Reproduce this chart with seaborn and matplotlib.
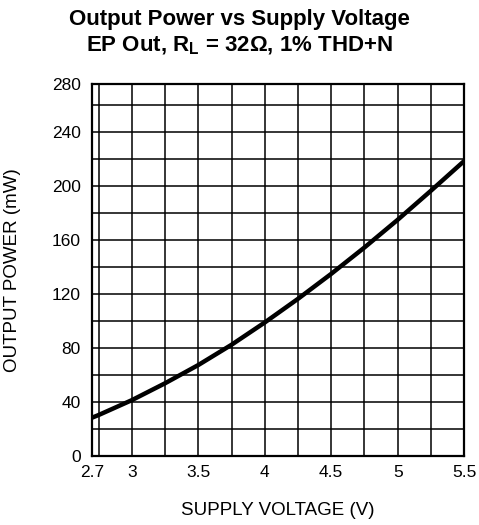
import numpy as np
import pandas as pd
import matplotlib
matplotlib.use("Agg")
import matplotlib.pyplot as plt
import seaborn as sns

# === Data ===
supply_voltage = [2.7, 2.75, 3.0, 3.25, 3.5, 3.75, 4.0, 4.25, 4.5, 4.75, 5.0, 5.25, 5.5]
output_power = [28.5, 30.5, 41.5, 54.0, 67.5, 82.5, 99.0, 116.5, 135.0, 154.5, 175.0, 196.5, 218.5]

x_ticks = [2.7, 3.0, 3.5, 4.0, 4.5, 5.0, 5.5]
x_tick_labels = ["2.7", "3", "3.5", "4", "4.5", "5", "5.5"]
y_ticks = [0, 40, 80, 120, 160, 200, 240, 275.5]
y_tick_labels = ["0", "40", "80", "120", "160", "200", "240", "280"]
x_grid = [2.75, 3.0, 3.25, 3.5, 3.75, 4.0, 4.25, 4.5, 4.75, 5.0, 5.25]
y_grid = [20, 40, 60, 80, 100, 120, 140, 160, 180, 200, 220, 240, 260]

df = pd.DataFrame({"voltage": supply_voltage, "power": output_power})

# === Style ===
sns.set_style("white")
plt.rcParams["font.family"] = ["Liberation Sans", "DejaVu Sans"]
plt.rcParams["text.color"] = "black"
plt.rcParams["axes.labelcolor"] = "black"
plt.rcParams["xtick.color"] = "black"
plt.rcParams["ytick.color"] = "black"
plt.rcParams["mathtext.fontset"] = "custom"
plt.rcParams["mathtext.bf"] = "Liberation Sans:bold"
plt.rcParams["mathtext.rm"] = "Liberation Sans:bold"

fig = plt.figure(figsize=(4.79, 5.25), dpi=100)
ax = fig.add_axes([0.192, 0.131, 0.777, 0.709])

# grid drawn as plain lines so they match the graph-paper look
for gx in x_grid:
    ax.axvline(gx, color="black", lw=1.1, zorder=1)
for gy in y_grid:
    ax.axhline(gy, color="black", lw=1.1, zorder=1)

sns.lineplot(data=df, x="voltage", y="power", color="black", lw=3.2, ax=ax, zorder=3)

ax.set_xlim(2.7, 5.5)
ax.set_ylim(0, 275.5)
ax.set_xticks(x_ticks)
ax.set_xticklabels(x_tick_labels, fontsize=12.5)
ax.set_yticks(y_ticks)
ax.set_yticklabels(y_tick_labels, fontsize=12.5)
ax.tick_params(axis="x", length=0, pad=6)
ax.tick_params(axis="y", length=0, pad=8)
for s in ax.spines.values():
    s.set_color("black")
    s.set_linewidth(1.6)

ax.set_xlabel("SUPPLY VOLTAGE (V)", fontsize=13.5)
ax.set_ylabel("OUTPUT POWER (mW)", fontsize=13.5)
ax.xaxis.set_label_coords(0.5, -0.122)
ax.yaxis.set_label_coords(-0.19, 0.5)

fig.text(0.5, 0.963, "Output Power vs Supply Voltage", ha="center", va="center",
         fontsize=16, fontweight="bold")
fig.text(0.5, 0.913, "EP Out, R$_{\\mathbf{L}}$ = 32Ω, 1% THD+N", ha="center", va="center",
         fontsize=16, fontweight="bold")

fig.savefig("out.png", dpi=100)
